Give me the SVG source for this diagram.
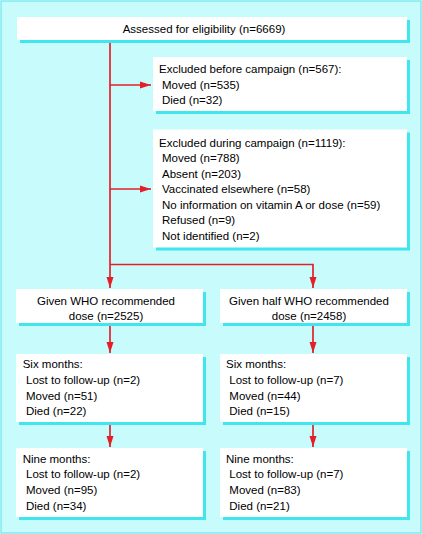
<svg xmlns="http://www.w3.org/2000/svg" width="422" height="534" viewBox="0 0 422 534">
<style>
.box{fill:#ffffff}
.sh{fill:#3fe6ee}
.t{font-family:"Liberation Sans",Arial,sans-serif;font-size:11.5px;fill:#000000}
.c{text-anchor:middle}
.ln{fill:none;stroke:#e3202a;stroke-width:1.7}
</style>
<defs>
<marker id="ah" markerUnits="userSpaceOnUse" markerWidth="11" markerHeight="8" refX="11" refY="4" orient="auto">
<path d="M0,0.5 L11,4 L0,7.5 z" fill="#e3202a"/>
</marker>
</defs>
<rect x="1" y="1" width="420" height="532" fill="#c8fbfb" stroke="#7eeaf0" stroke-width="1.5"/>
<g id="connectors">
<path class="ln" d="M110,40 V288" marker-end="url(#ah)"/>
<path class="ln" d="M110,264.5 H313 V288" marker-end="url(#ah)"/>
<path class="ln" d="M110,85 H151" marker-end="url(#ah)"/>
<path class="ln" d="M110,189 H151" marker-end="url(#ah)"/>
<path class="ln" d="M110,323 V353" marker-end="url(#ah)"/>
<path class="ln" d="M313,323 V353" marker-end="url(#ah)"/>
<path class="ln" d="M110,422 V447" marker-end="url(#ah)"/>
<path class="ln" d="M313,422 V447" marker-end="url(#ah)"/>
</g>
<g id="assessed">
<rect class="sh" x="20" y="20" width="390" height="23"/>
<rect class="box" x="17" y="17" width="390" height="23"/>
<text class="t" x="122.7" y="32.5">Assessed for eligibility (n=6669)</text>
</g>
<g id="excluded-before">
<rect class="sh" x="156" y="60" width="254" height="54"/>
<rect class="box" x="153" y="57" width="254" height="54"/>
<text class="t" x="159" y="73">Excluded before campaign (n=567):</text>
<text class="t" x="162" y="88.5">Moved (n=535)</text>
<text class="t" x="162" y="104">Died (n=32)</text>
</g>
<g id="excluded-during">
<rect class="sh" x="156" y="132.5" width="254" height="118"/>
<rect class="box" x="153" y="129.5" width="254" height="118"/>
<text class="t" x="159" y="146.5">Excluded during campaign (n=1119):</text>
<text class="t" x="162" y="162">Moved (n=788)</text>
<text class="t" x="162" y="177.5">Absent (n=203)</text>
<text class="t" x="162" y="193">Vaccinated elsewhere (n=58)</text>
<text class="t" x="162" y="208.5">No information on vitamin A or dose (n=59)</text>
<text class="t" x="162" y="224">Refused (n=9)</text>
<text class="t" x="162" y="239.5">Not identified (n=2)</text>
</g>
<g id="given-who">
<rect class="sh" x="19" y="292" width="187" height="34"/>
<rect class="box" x="16" y="289" width="187" height="34"/>
<text class="t c" x="106" y="304.5">Given WHO recommended</text>
<text class="t c" x="106" y="320">dose (n=2525)</text>
</g>
<g id="given-half">
<rect class="sh" x="223" y="292" width="187" height="34"/>
<rect class="box" x="220" y="289" width="187" height="34"/>
<text class="t c" x="309" y="304.5">Given half WHO recommended</text>
<text class="t c" x="309" y="320">dose (n=2458)</text>
</g>
<g id="six-left">
<rect class="sh" x="19" y="357" width="187" height="68"/>
<rect class="box" x="16" y="354" width="187" height="68"/>
<text class="t" x="22.7" y="368">Six months:</text>
<text class="t" x="26" y="383.8">Lost to follow-up (n=2)</text>
<text class="t" x="26" y="399.6">Moved (n=51)</text>
<text class="t" x="26" y="415.4">Died (n=22)</text>
</g>
<g id="six-right">
<rect class="sh" x="223" y="357" width="187" height="68"/>
<rect class="box" x="220" y="354" width="187" height="68"/>
<text class="t" x="226" y="368">Six months:</text>
<text class="t" x="229.3" y="383.8">Lost to follow-up (n=7)</text>
<text class="t" x="229.3" y="399.6">Moved (n=44)</text>
<text class="t" x="229.3" y="415.4">Died (n=15)</text>
</g>
<g id="nine-left">
<rect class="sh" x="19" y="451" width="187" height="69"/>
<rect class="box" x="16" y="448" width="187" height="69"/>
<text class="t" x="22.7" y="462.5">Nine months:</text>
<text class="t" x="26" y="478.3">Lost to follow-up (n=2)</text>
<text class="t" x="26" y="494">Moved (n=95)</text>
<text class="t" x="26" y="509.8">Died (n=34)</text>
</g>
<g id="nine-right">
<rect class="sh" x="223" y="451" width="187" height="69"/>
<rect class="box" x="220" y="448" width="187" height="69"/>
<text class="t" x="226" y="462.5">Nine months:</text>
<text class="t" x="229.3" y="478.3">Lost to follow-up (n=7)</text>
<text class="t" x="229.3" y="494">Moved (n=83)</text>
<text class="t" x="229.3" y="509.8">Died (n=21)</text>
</g>
</svg>
